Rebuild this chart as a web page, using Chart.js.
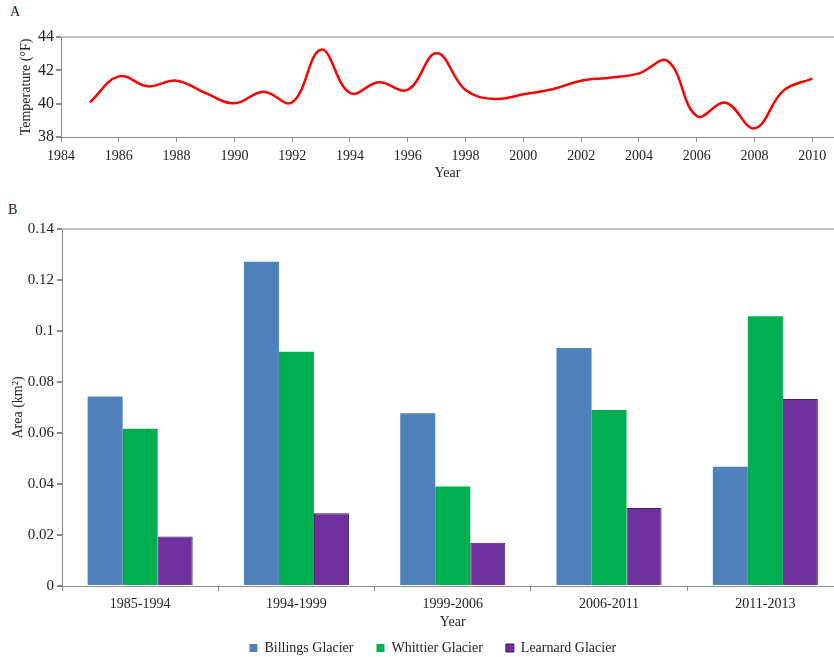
<!DOCTYPE html>
<html>
<head>
<meta charset="utf-8">
<script src="https://cdn.jsdelivr.net/npm/chart.js@4"></script>
<style>
html, body { margin: 0; padding: 0; width: 834px; height: 657px; overflow: hidden; background: #fff; }
#boxA { position: absolute; left: 0; top: 0; }
#boxB { position: absolute; left: 0; top: 190px; }
.panel { position: absolute; font: 14px "Liberation Serif", serif; color: #222; line-height: 16px; }
</style>
</head>
<body>
<div class="panel" style="left:10px; top:4px;">A</div>
<div class="panel" style="left:8px; top:202px;">B</div>
<div id="boxA"><canvas id="tempChart" width="834" height="190"></canvas></div>
<div id="boxB"><canvas id="areaChart" width="890" height="475"></canvas></div>
<script>
// panel A: mean temperature by year
const years = [1985, 1986, 1987, 1988, 1989, 1990, 1991, 1992, 1993, 1994, 1995, 1996, 1997,
               1998, 1999, 2000, 2001, 2002, 2003, 2004, 2005, 2006, 2007, 2008, 2009, 2010];
const temps = [40.08, 41.64, 41.04, 41.38, 40.64, 40.02, 40.72, 40.08, 43.24, 40.64, 41.28, 40.84, 43.02,
               40.82, 40.28, 40.56, 40.86, 41.38, 41.56, 41.82, 42.55, 39.26, 40.06, 38.52, 40.78, 41.5];
const yearTicks = [1984, 1986, 1988, 1990, 1992, 1994, 1996, 1998, 2000, 2002, 2004, 2006, 2008, 2010];

// panel B: glacier area by period
const periods = ["1985-1994", "1994-1999", "1999-2006", "2006-2011", "2011-2013"];
const billings = [0.0743, 0.1272, 0.0677, 0.0933, 0.0468];
const whittier = [0.0617, 0.0919, 0.0390, 0.0690, 0.1058];
const learnard = [0.0194, 0.0285, 0.0170, 0.0306, 0.0733];

Chart.defaults.font.family = '"Liberation Serif", "Times New Roman", serif';
Chart.defaults.font.size = 14;
Chart.defaults.color = "#222";
Chart.defaults.animation = false;

const axisGray = "#8c8c8c";

function topLineOnly(max) {
    return ctx => (ctx.tick && Math.abs(ctx.tick.value - max) < 1e-9) ? "#bfbfbf" : "rgba(0,0,0,0)";
}

new Chart(document.getElementById("tempChart"), {
    type: "line",
    data: {
        datasets: [{
            data: years.map((y, i) => ({ x: y, y: temps[i] })),
            borderColor: "#ff0000",
            borderWidth: 2.5,
            pointRadius: 0,
            tension: 0.4,
            fill: false
        }]
    },
    options: {
        responsive: false,
        layout: { padding: { top: 37, left: 0, right: 0, bottom: 0 } },
        plugins: { legend: { display: false }, tooltip: { enabled: false } },
        scales: {
            x: {
                type: "linear",
                min: 1984,
                max: 2010.75,
                afterBuildTicks: s => { s.ticks = yearTicks.map(v => ({ value: v })); },
                afterFit: s => { s.height = 53; },
                ticks: { padding: 6, maxRotation: 0, callback: v => String(v) },
                grid: { drawOnChartArea: false, tickLength: 5, tickColor: axisGray },
                border: { color: axisGray },
                title: { display: true, text: "Year", padding: { top: 0, bottom: 8.6 } }
            },
            y: {
                min: 38,
                max: 44,
                afterFit: s => { s.width = 61; },
                ticks: { stepSize: 2, padding: 2, font: { size: 16 } },
                grid: { color: topLineOnly(44), lineWidth: 2, tickLength: 5, tickColor: axisGray },
                border: { color: axisGray },
                title: { display: true, text: "Temperature (°F)", padding: { top: 17.6, bottom: 0 } }
            }
        }
    }
});

const legendGap = "      ";

new Chart(document.getElementById("areaChart"), {
    type: "bar",
    data: {
        labels: periods,
        datasets: [
            { label: "Billings Glacier", data: billings, backgroundColor: "#4f81bd", borderWidth: 0 },
            { label: "Whittier Glacier", data: whittier, backgroundColor: "#00b050", borderWidth: 0 },
            { label: "Learnard Glacier", data: learnard, backgroundColor: "#7030a0", borderColor: "#3f1d5e", borderWidth: 1 }
        ]
    },
    options: {
        responsive: false,
        layout: { padding: { top: 39, left: 0, right: 24.5, bottom: 0 } },
        datasets: { bar: { categoryPercentage: 0.672, barPercentage: 1.0 } },
        plugins: {
            tooltip: { enabled: false },
            legend: {
                position: "bottom",
                labels: {
                    boxWidth: 8,
                    boxHeight: 8,
                    padding: 2,
                    font: { size: 14 },
                    generateLabels: chart => {
                        const items = Chart.defaults.plugins.legend.labels.generateLabels(chart);
                        items.forEach((it, i) => { if (i < items.length - 1) it.text += legendGap; });
                        return items;
                    }
                }
            }
        },
        scales: {
            x: {
                afterFit: s => { s.height = 53; },
                ticks: { padding: 5, maxRotation: 0 },
                grid: { drawOnChartArea: false, tickLength: 5, tickColor: axisGray },
                border: { color: axisGray },
                title: { display: true, text: "Year", padding: { top: 0, bottom: 8.6 } }
            },
            y: {
                min: 0,
                max: 0.14,
                afterFit: s => { s.width = 62; },
                ticks: { stepSize: 0.02, padding: 3, font: { size: 15 }, callback: v => String(+v.toFixed(2)) },
                grid: { color: topLineOnly(0.14), lineWidth: 2, tickLength: 5, tickColor: axisGray },
                border: { color: axisGray },
                title: { display: true, text: "Area (km²)", padding: { top: 9.6, bottom: 0 } }
            },
            // empty right-hand axis so the plot stops at the cropped edge while the legend keeps its centre
            spacer: {
                position: "right",
                afterFit: s => { s.width = 22; },
                ticks: { display: false },
                grid: { display: false },
                border: { display: false }
            }
        }
    }
});
</script>
</body>
</html>
